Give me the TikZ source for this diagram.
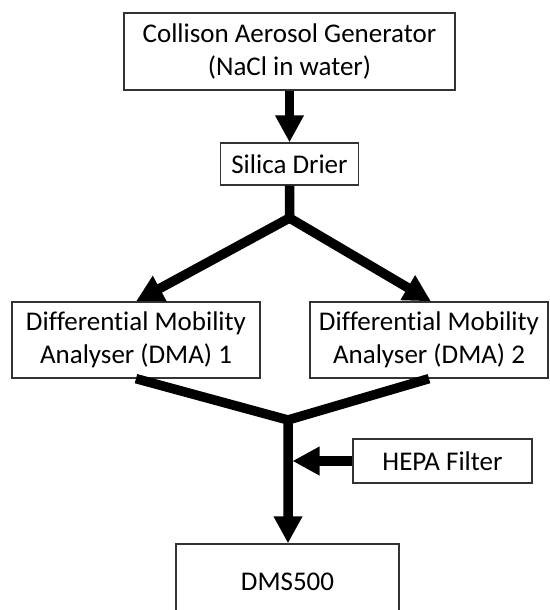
\documentclass[tikz,border=0pt]{standalone}
\usepackage{fontspec}
\setmainfont{Carlito}[Ligatures=NoCommon]
\usetikzlibrary{arrows.meta}
\tikzset{
  box/.style={draw=black!80, line width=1.3pt, fill=white, inner sep=0pt, align=center,
    font=\fontsize{27}{32.5}\selectfont},
  flow/.style={line width=9.5pt, black, line join=miter},
  flowarrow/.style={flow, -{Triangle[width=27pt,length=27pt]}}
}
\begin{document}
\begin{tikzpicture}[x=1pt,y=-1pt]
\useasboundingbox (0,0) rectangle (549,610);
\node[box, minimum width=331pt, minimum height=77pt] (gen) at (289.5,51.5)
  {Collison Aerosol Generator\\(NaCl in water)};
\node[box, minimum width=138pt, minimum height=42pt] (silica) at (289.5,164) {Silica Drier};
\node[box, minimum width=248pt, minimum height=76pt] (dma1) at (136,340)
  {Differential Mobility\\Analyser (DMA) 1};
\node[box, minimum width=238pt, minimum height=76pt] (dma2) at (429,340)
  {Differential Mobility\\Analyser (DMA) 2};
\node[box, minimum width=179pt, minimum height=44pt] (hepa) at (442.5,461) {HEPA Filter};
\node[box, minimum width=223pt, minimum height=76pt] (dms) at (287.5,582) {DMS500};
\coordinate (j1) at (289.5,218);
\coordinate (j2) at (288,420);
\draw[flowarrow] (gen.south) -- (silica.north);
\draw[flowarrow] (silica.south) -- (j1) -- (dma1.north);
\draw[flowarrow] (j1) -- ([xshift=2pt]dma2.north);
\draw[flow] (dma2.south) -- (j2);
\draw[flowarrow] (dma1.south) -- (j2) -- (j2 |- dms.north);
\draw[flowarrow] (hepa.west) -- ([xshift=4.5pt]j2 |- hepa.west);
\end{tikzpicture}
\end{document}
